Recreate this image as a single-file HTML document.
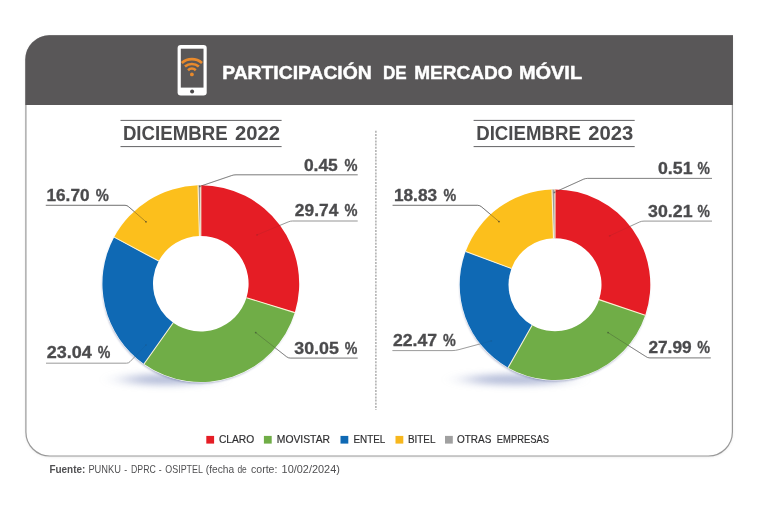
<!DOCTYPE html>
<html lang="es">
<head>
<meta charset="utf-8">
<title>Participación de mercado móvil</title>
<style>
html,body{margin:0;padding:0;background:#fff;}
body{width:760px;height:507px;overflow:hidden;font-family:"Liberation Sans",sans-serif;}
svg{display:block;font-family:"Liberation Sans",sans-serif;}
</style>
</head>
<body>
<svg width="760" height="507" viewBox="0 0 760 507">
<defs>
<filter id="sh" x="-30%" y="-100%" width="160%" height="300%"><feGaussianBlur stdDeviation="13 3.6"/></filter>
<filter id="sh2" x="-10%" y="-10%" width="120%" height="120%"><feGaussianBlur stdDeviation="1.3"/></filter>
<filter id="ps" x="-5%" y="-5%" width="110%" height="110%"><feGaussianBlur stdDeviation="1.6"/></filter>
</defs>
<rect width="760" height="507" fill="#ffffff"/>
<!-- panel -->
<path d="M49.4 35.9H732.4V432A24 24 0 0 1 708.4 456H49.9A24 24 0 0 1 25.9 432V59.4A23.5 23.5 0 0 1 49.4 35.9Z" fill="#cfcfcf" filter="url(#ps)" opacity="0.55" transform="translate(0,0.8)"/>
<path d="M49.4 35.9H732.4V432A24 24 0 0 1 708.4 456H49.9A24 24 0 0 1 25.9 432V59.4A23.5 23.5 0 0 1 49.4 35.9Z" fill="#ffffff" stroke="#999999" stroke-width="1.2"/>
<path d="M25.35 105.1V59.4A24.05 24.05 0 0 1 49.4 35.35H732.95V105.1Z" fill="#595758"/>
<!-- phone icon -->
<g>
<rect x="177.6" y="44.9" width="29.1" height="50.5" rx="3.2" fill="#ffffff"/>
<rect x="180.8" y="48.7" width="22.7" height="38.9" fill="#595758"/>
<circle cx="192.1" cy="91.4" r="2" fill="#4a4849"/>
<g fill="none" stroke="#e98a2c" stroke-width="2.7" stroke-linecap="butt">
<path d="M181.80 62.98A15.4 15.4 0 0 1 202.00 62.98"/>
<path d="M184.95 66.60A10.6 10.6 0 0 1 198.85 66.60"/>
<path d="M188.03 70.15A5.9 5.9 0 0 1 195.77 70.15"/>
</g>
<circle cx="191.9" cy="74.4" r="1.9" fill="#e98a2c"/>
</g>
<text y="78.8" font-size="18.4" font-weight="700" fill="#ffffff" stroke="#ffffff" stroke-width="0.45"><tspan x="222.2" textLength="149.5" lengthAdjust="spacingAndGlyphs">PARTICIPACIÓN</tspan> <tspan x="382.9" textLength="23.7" lengthAdjust="spacingAndGlyphs">DE</tspan> <tspan x="414.2" textLength="98.3" lengthAdjust="spacingAndGlyphs">MERCADO</tspan> <tspan x="518.9" textLength="63.2" lengthAdjust="spacingAndGlyphs">MÓVIL</tspan></text>
<!-- section titles -->
<g stroke="#505052" stroke-width="0.9">
<path d="M120.5 120.4H281.6M120.5 146.6H281.6M473.6 120.4H634.7M473.6 146.6H634.7"/>
</g>
<text y="140.3" font-size="20.2" font-weight="700" fill="#4b4b4d"><tspan x="122.9" textLength="104.7" lengthAdjust="spacingAndGlyphs">DICIEMBRE</tspan> <tspan x="234.9" textLength="45" lengthAdjust="spacingAndGlyphs">2022</tspan></text>
<text y="140.3" font-size="20.2" font-weight="700" fill="#4b4b4d"><tspan x="476.2" textLength="104.7" lengthAdjust="spacingAndGlyphs">DICIEMBRE</tspan> <tspan x="588.2" textLength="45" lengthAdjust="spacingAndGlyphs">2023</tspan></text>
<!-- divider -->
<path d="M375.9 130.8V410" stroke="#9a9a9a" stroke-width="1.2" stroke-dasharray="2 1.2" fill="none"/>
<!-- shadows -->
<ellipse cx="166" cy="379.5" rx="42" ry="5.5" fill="#7887ba" opacity="0.55" filter="url(#sh)"/>
<circle cx="200.1" cy="285.6" r="97.6" fill="#566093" opacity="0.55" filter="url(#sh2)"/>
<ellipse cx="516" cy="379.5" rx="50" ry="5.5" fill="#7887ba" opacity="0.55" filter="url(#sh)"/>
<circle cx="554.6" cy="286.7" r="94.6" fill="#566093" opacity="0.55" filter="url(#sh2)"/>
<circle cx="200.8" cy="283.7" r="98.9" fill="#fff"/><circle cx="555" cy="284.7" r="95.8" fill="#fff"/><circle cx="200.8" cy="283.7" r="48.2" fill="#fff"/><circle cx="555" cy="284.7" r="46.9" fill="#fff"/>
<!-- leaders -->
<path d="M357.7 174.8H236Q233.8 174.8 231.8 175.5L199.8 186.4M357.7 221H292.5Q290.3 221 288.3 221.9L257 234.9M357.7 358.1H290.5Q288.2 358.1 286.5 356.7L255.7 332.6M45.8 205.3H125Q127.2 205.3 128.7 206.8L146 221.8M46 363.2H126.5Q128.6 363.2 130 361.7L146 345M712 178.4H587.5Q585.3 178.4 583.3 179.3L554.4 192.4M712 221.1H644Q641.5 221.1 639.5 222L609.7 235.8M710.8 357.9H649.8Q647.5 357.9 645.8 356.5L608 332.6M392.6 205.3H477.5Q479.8 205.3 481.5 206.8L499 221.6M392.4 350.6H452Q455.5 350.6 459 349.6L491.3 340.9" stroke="#9b9b9b" stroke-width="0.9" fill="none" stroke-linejoin="round"/>
<!-- donut 1 -->
<path d="M200.80 185.30A98.4 98.4 0 0 1 294.86 312.61L246.49 297.74A47.8 47.8 0 0 0 200.80 235.90Z" fill="#e51d25"/>
<path d="M294.86 312.61A98.4 98.4 0 0 1 143.96 364.02L173.19 322.72A47.8 47.8 0 0 0 246.49 297.74Z" fill="#70ad47"/>
<path d="M143.96 364.02A98.4 98.4 0 0 1 114.12 237.13L158.69 261.08A47.8 47.8 0 0 0 173.19 322.72Z" fill="#0f69b4"/>
<path d="M114.12 237.13A98.4 98.4 0 0 1 198.02 185.34L199.45 235.92A47.8 47.8 0 0 0 158.69 261.08Z" fill="#fcbf1c"/>
<path d="M198.02 185.34A98.4 98.4 0 0 1 200.80 185.30L200.80 235.90A47.8 47.8 0 0 0 199.45 235.92Z" fill="#9c9c9c"/>
<path d="M200.80 185.30L200.80 235.90M294.86 312.61L246.49 297.74M143.96 364.02L173.19 322.72M114.12 237.13L158.69 261.08M198.02 185.34L199.45 235.92" stroke="#fff4d8" stroke-width="1.1" fill="none" opacity="0.95"/>
<!-- donut 2 -->
<path d="M555.00 189.40A95.3 95.3 0 0 1 645.25 315.33L599.03 299.64A46.5 46.5 0 0 0 555.00 238.20Z" fill="#e51d25"/>
<path d="M645.25 315.33A95.3 95.3 0 0 1 508.07 367.65L532.10 325.17A46.5 46.5 0 0 0 599.03 299.64Z" fill="#70ad47"/>
<path d="M508.07 367.65A95.3 95.3 0 0 1 465.67 251.51L511.41 268.50A46.5 46.5 0 0 0 532.10 325.17Z" fill="#0f69b4"/>
<path d="M465.67 251.51A95.3 95.3 0 0 1 551.95 189.45L553.51 238.22A46.5 46.5 0 0 0 511.41 268.50Z" fill="#fcbf1c"/>
<path d="M551.95 189.45A95.3 95.3 0 0 1 555.00 189.40L555.00 238.20A46.5 46.5 0 0 0 553.51 238.22Z" fill="#9c9c9c"/>
<path d="M555.00 189.40L555.00 238.20M645.25 315.33L599.03 299.64M508.07 367.65L532.10 325.17M465.67 251.51L511.41 268.50M551.95 189.45L553.51 238.22" stroke="#fff4d8" stroke-width="1.1" fill="none" opacity="0.95"/>
<path d="M357.7 174.8H236Q233.8 174.8 231.8 175.5L199.8 186.4" stroke="#2b2b2b" stroke-width="0.9" fill="none" opacity="0.3"/><circle cx="199.8" cy="186.4" r="0.9" fill="#2b2b2b" opacity="0.48"/><path d="M357.7 221H292.5Q290.3 221 288.3 221.9L257 234.9" stroke="#2b2b2b" stroke-width="0.9" fill="none" opacity="0.1"/><circle cx="257" cy="234.9" r="0.9" fill="#2b2b2b" opacity="0.16"/><path d="M357.7 358.1H290.5Q288.2 358.1 286.5 356.7L255.7 332.6" stroke="#2b2b2b" stroke-width="0.9" fill="none" opacity="0.3"/><circle cx="255.7" cy="332.6" r="0.9" fill="#2b2b2b" opacity="0.48"/><path d="M45.8 205.3H125Q127.2 205.3 128.7 206.8L146 221.8" stroke="#2b2b2b" stroke-width="0.9" fill="none" opacity="0.4"/><circle cx="146" cy="221.8" r="0.9" fill="#2b2b2b" opacity="0.64"/><path d="M46 363.2H126.5Q128.6 363.2 130 361.7L146 345" stroke="#2b2b2b" stroke-width="0.9" fill="none" opacity="0.08"/><circle cx="146" cy="345" r="0.9" fill="#2b2b2b" opacity="0.13"/><path d="M712 178.4H587.5Q585.3 178.4 583.3 179.3L554.4 192.4" stroke="#2b2b2b" stroke-width="0.9" fill="none" opacity="0.3"/><circle cx="554.4" cy="192.4" r="0.9" fill="#2b2b2b" opacity="0.48"/><path d="M712 221.1H644Q641.5 221.1 639.5 222L609.7 235.8" stroke="#2b2b2b" stroke-width="0.9" fill="none" opacity="0.1"/><circle cx="609.7" cy="235.8" r="0.9" fill="#2b2b2b" opacity="0.16"/><path d="M710.8 357.9H649.8Q647.5 357.9 645.8 356.5L608 332.6" stroke="#2b2b2b" stroke-width="0.9" fill="none" opacity="0.3"/><circle cx="608" cy="332.6" r="0.9" fill="#2b2b2b" opacity="0.48"/><path d="M392.6 205.3H477.5Q479.8 205.3 481.5 206.8L499 221.6" stroke="#2b2b2b" stroke-width="0.9" fill="none" opacity="0.4"/><circle cx="499" cy="221.6" r="0.9" fill="#2b2b2b" opacity="0.64"/><path d="M392.4 350.6H452Q455.5 350.6 459 349.6L491.3 340.9" stroke="#2b2b2b" stroke-width="0.9" fill="none" opacity="0.08"/><circle cx="491.3" cy="340.9" r="0.9" fill="#2b2b2b" opacity="0.13"/>
<!-- labels -->
<text y="170.6" font-size="15.9" font-weight="700" fill="#4b4b4d" stroke="#4b4b4d" stroke-width="0.3"><tspan x="303.9" textLength="33.9" lengthAdjust="spacingAndGlyphs">0.45</tspan> <tspan x="344.6" textLength="13.0" lengthAdjust="spacingAndGlyphs">%</tspan></text>
<text y="216.4" font-size="15.9" font-weight="700" fill="#4b4b4d" stroke="#4b4b4d" stroke-width="0.3"><tspan x="294.8" textLength="43.5" lengthAdjust="spacingAndGlyphs">29.74</tspan> <tspan x="344.6" textLength="13.0" lengthAdjust="spacingAndGlyphs">%</tspan></text>
<text y="353.7" font-size="15.9" font-weight="700" fill="#4b4b4d" stroke="#4b4b4d" stroke-width="0.3"><tspan x="294.3" textLength="44.6" lengthAdjust="spacingAndGlyphs">30.05</tspan> <tspan x="344.8" textLength="12.6" lengthAdjust="spacingAndGlyphs">%</tspan></text>
<text y="200.6" font-size="15.9" font-weight="700" fill="#4b4b4d" stroke="#4b4b4d" stroke-width="0.3"><tspan x="46.5" textLength="43.0" lengthAdjust="spacingAndGlyphs">16.70</tspan> <tspan x="95.8" textLength="13.1" lengthAdjust="spacingAndGlyphs">%</tspan></text>
<text y="358.2" font-size="15.9" font-weight="700" fill="#4b4b4d" stroke="#4b4b4d" stroke-width="0.3"><tspan x="46.8" textLength="45.0" lengthAdjust="spacingAndGlyphs">23.04</tspan> <tspan x="97.7" textLength="12.6" lengthAdjust="spacingAndGlyphs">%</tspan></text>
<text y="174.2" font-size="15.9" font-weight="700" fill="#4b4b4d" stroke="#4b4b4d" stroke-width="0.3"><tspan x="658.0" textLength="34.5" lengthAdjust="spacingAndGlyphs">0.51</tspan> <tspan x="697.4" textLength="12.4" lengthAdjust="spacingAndGlyphs">%</tspan></text>
<text y="216.8" font-size="15.9" font-weight="700" fill="#4b4b4d" stroke="#4b4b4d" stroke-width="0.3"><tspan x="648.1" textLength="44.4" lengthAdjust="spacingAndGlyphs">30.21</tspan> <tspan x="697.4" textLength="12.4" lengthAdjust="spacingAndGlyphs">%</tspan></text>
<text y="352.9" font-size="15.9" font-weight="700" fill="#4b4b4d" stroke="#4b4b4d" stroke-width="0.3"><tspan x="648.4" textLength="43.2" lengthAdjust="spacingAndGlyphs">27.99</tspan> <tspan x="697.2" textLength="12.8" lengthAdjust="spacingAndGlyphs">%</tspan></text>
<text y="200.6" font-size="15.9" font-weight="700" fill="#4b4b4d" stroke="#4b4b4d" stroke-width="0.3"><tspan x="393.9" textLength="43.2" lengthAdjust="spacingAndGlyphs">18.83</tspan> <tspan x="443.4" textLength="12.7" lengthAdjust="spacingAndGlyphs">%</tspan></text>
<text y="345.8" font-size="15.9" font-weight="700" fill="#4b4b4d" stroke="#4b4b4d" stroke-width="0.3"><tspan x="392.9" textLength="44.2" lengthAdjust="spacingAndGlyphs">22.47</tspan> <tspan x="442.9" textLength="12.8" lengthAdjust="spacingAndGlyphs">%</tspan></text>
<!-- legend -->
<g font-size="10.7" fill="#2f2f31" stroke="#2f2f31" stroke-width="0.18">
<rect x="206.3" y="435.9" width="7.8" height="7.7" stroke="none" fill="#e51d25"/>
<text x="218.9" y="443.4" textLength="35.3" lengthAdjust="spacingAndGlyphs">CLARO</text>
<rect x="263.9" y="435.9" width="7.8" height="7.7" stroke="none" fill="#70ad47"/>
<text x="276.8" y="443.4" textLength="53.2" lengthAdjust="spacingAndGlyphs">MOVISTAR</text>
<rect x="340.5" y="435.9" width="7.8" height="7.7" stroke="none" fill="#0f69b4"/>
<text x="353.4" y="443.4" textLength="31.9" lengthAdjust="spacingAndGlyphs">ENTEL</text>
<rect x="395.5" y="435.9" width="7.8" height="7.7" stroke="none" fill="#f7b71d"/>
<text x="407.9" y="443.4" textLength="27.6" lengthAdjust="spacingAndGlyphs">BITEL</text>
<rect x="445" y="435.9" width="7.8" height="7.7" stroke="none" fill="#a0a0a0"/>
<text y="443.4"><tspan x="457" textLength="34.3" lengthAdjust="spacingAndGlyphs">OTRAS</tspan> <tspan x="496.8" textLength="52.2" lengthAdjust="spacingAndGlyphs">EMPRESAS</tspan></text>
</g>
<!-- footer -->
<text y="472.9" font-size="10.6" fill="#505052"><tspan x="49.4" textLength="35.9" lengthAdjust="spacingAndGlyphs" font-weight="700">Fuente:</tspan> <tspan x="88.4" textLength="32.6" lengthAdjust="spacingAndGlyphs">PUNKU</tspan> <tspan x="124.2" textLength="2.9" lengthAdjust="spacingAndGlyphs">-</tspan> <tspan x="131" textLength="24.8" lengthAdjust="spacingAndGlyphs">DPRC</tspan> <tspan x="158.8" textLength="2.9" lengthAdjust="spacingAndGlyphs">-</tspan> <tspan x="165.3" textLength="37.3" lengthAdjust="spacingAndGlyphs">OSIPTEL</tspan> <tspan x="205.8" textLength="28.4" lengthAdjust="spacingAndGlyphs">(fecha</tspan> <tspan x="237.4" textLength="9.4" lengthAdjust="spacingAndGlyphs">de</tspan> <tspan x="251" textLength="26.4" lengthAdjust="spacingAndGlyphs">corte:</tspan> <tspan x="281.6" textLength="58.3" lengthAdjust="spacingAndGlyphs">10/02/2024)</tspan></text>
</svg>
</body>
</html>
